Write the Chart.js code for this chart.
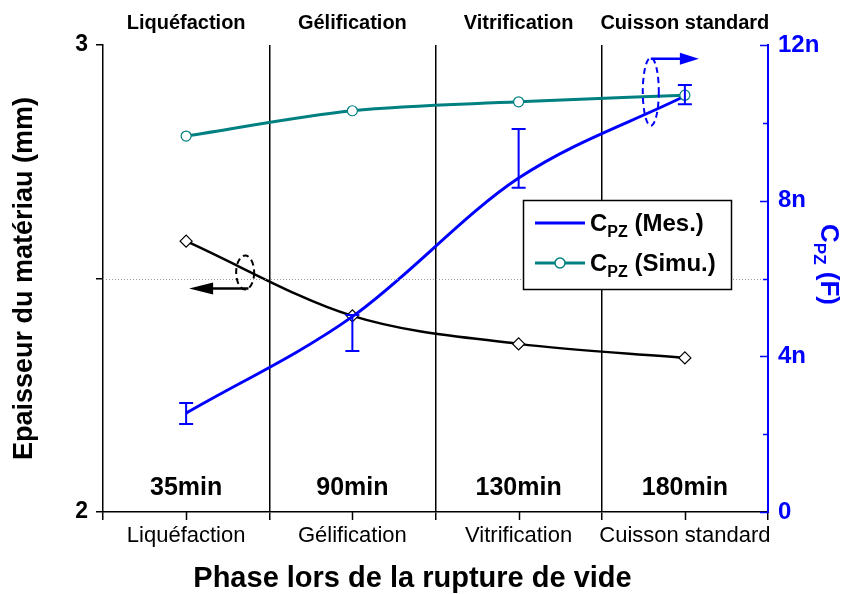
<!DOCTYPE html>
<html>
<head>
<meta charset="utf-8">
<script src="https://cdn.jsdelivr.net/npm/chart.js@4.4.0/dist/chart.umd.min.js"></script>
<style>
  html, body { margin: 0; padding: 0; background: #fff; }
  #wrap { width: 850px; height: 594px; }
</style>
</head>
<body>
<div id="wrap"><canvas id="chart" width="850" height="594"></canvas></div>
<script>
// phases de cuisson (axe X haut et bas)
const phases = ['Liquéfaction', 'Gélification', 'Vitrification', 'Cuisson standard'];
const durations = ['35min', '90min', '130min', '180min'];

// épaisseur du matériau (mm), axe gauche
const thickness = [2.58, 2.42, 2.36, 2.33];

// C_PZ mesurée (nF) + barres d'erreur, axe droit
const cpzMes = [2.54, 5.02, 8.58, 10.69];
const cpzMesLow = [2.26, 4.14, 8.33, 10.48];
const cpzMesHigh = [2.80, 5.06, 9.84, 10.97];

// C_PZ simulée (nF)
const cpzSimu = [9.66, 10.31, 10.54, 10.71];

const leftTicks = [2, 2.5, 3];
const rightTicks = [0, 2, 4, 6, 8, 10, 12];

const FONT = '"Liberation Sans", Arial, sans-serif';
const BLUE = '#0000ff';
const TEAL = '#008080';

// dessin des éléments que Chart.js ne fait pas tout seul
const extras = {
  id: 'extras',
  afterDatasetsDraw(chart) {
    const ctx = chart.ctx;
    const area = chart.chartArea;
    const xS = chart.scales.x;
    const yL = chart.scales.y;
    const yR = chart.scales.y2;
    ctx.save();

    // ligne pointillée à 2.5 mm
    ctx.strokeStyle = '#999';
    ctx.lineWidth = 1;
    ctx.setLineDash([1, 2]);
    const y25 = Math.round(yL.getPixelForValue(2.5)) + 0.5;
    ctx.beginPath();
    ctx.moveTo(area.left, y25);
    ctx.lineTo(area.right, y25);
    ctx.stroke();
    ctx.setLineDash([]);

    // barres d'erreur
    ctx.strokeStyle = BLUE;
    ctx.lineWidth = 2;
    cpzMes.forEach((v, i) => {
      const x = xS.getPixelForValue(i);
      const yt = yR.getPixelForValue(cpzMesHigh[i]);
      const yb = yR.getPixelForValue(cpzMesLow[i]);
      ctx.beginPath();
      ctx.moveTo(x, yt); ctx.lineTo(x, yb);
      ctx.moveTo(x - 7, yt); ctx.lineTo(x + 7, yt);
      ctx.moveTo(x - 7, yb); ctx.lineTo(x + 7, yb);
      ctx.stroke();
    });

    // durées en bas du graphe
    ctx.fillStyle = '#000';
    ctx.font = 'bold 25px ' + FONT;
    ctx.textAlign = 'center';
    ctx.textBaseline = 'middle';
    durations.forEach((d, i) => {
      ctx.fillText(d, xS.getPixelForValue(i), area.bottom - 24);
    });

    // titre de l'axe X
    ctx.font = 'bold 29px ' + FONT;
    ctx.fillText('Phase lors de la rupture de vide', (area.left + area.right) / 2 - 23, area.bottom + 67);

    // petites graduations au centre des catégories
    ctx.strokeStyle = '#000';
    ctx.lineWidth = 1.5;
    phases.forEach((p, i) => {
      const x = Math.round(xS.getPixelForValue(i)) + 0.5;
      ctx.beginPath();
      ctx.moveTo(x, area.bottom);
      ctx.lineTo(x, area.bottom + 8);
      ctx.stroke();
    });

    // graduations internes de l'axe droit
    ctx.strokeStyle = BLUE;
    ctx.lineWidth = 1.5;
    rightTicks.forEach(v => {
      const y = Math.round(yR.getPixelForValue(v)) + 0.5;
      const len = v % 4 === 0 ? 8 : 5;
      ctx.beginPath();
      ctx.moveTo(area.right, y);
      ctx.lineTo(area.right - len, y);
      ctx.stroke();
    });

    // annotations : ellipses + flèches
    const x0 = xS.getPixelForValue(0);
    const x3 = xS.getPixelForValue(3);
    const sp = xS.getPixelForValue(1) - x0;
    ctx.lineWidth = 2;

    ctx.strokeStyle = '#000';
    ctx.fillStyle = '#000';
    ctx.setLineDash([6, 4]);
    ctx.beginPath();
    ctx.ellipse(x0 + 0.355 * sp, yL.getPixelForValue(2.5) - 6, 9, 17, 0, 0, Math.PI * 2);
    ctx.stroke();
    ctx.setLineDash([]);
    const ya = yL.getPixelForValue(2.5) + 10;
    ctx.lineWidth = 2.5;
    ctx.beginPath();
    ctx.moveTo(x0 + 0.375 * sp, ya);
    ctx.lineTo(x0 + 24, ya);
    ctx.stroke();
    ctx.beginPath();
    ctx.moveTo(x0 + 3, ya);
    ctx.lineTo(x0 + 27, ya - 6);
    ctx.lineTo(x0 + 27, ya + 6);
    ctx.closePath();
    ctx.fill();

    ctx.strokeStyle = BLUE;
    ctx.fillStyle = BLUE;
    ctx.lineWidth = 2;
    ctx.setLineDash([6, 4]);
    const cyR = yR.getPixelForValue(10.8);
    ctx.beginPath();
    ctx.ellipse(x3 - 0.205 * sp, cyR, 8, 34, 0, 0, Math.PI * 2);
    ctx.stroke();
    ctx.setLineDash([]);
    const yb2 = cyR - 33;
    ctx.lineWidth = 2.5;
    ctx.beginPath();
    ctx.moveTo(x3 - 0.205 * sp, yb2);
    ctx.lineTo(x3 - 2, yb2);
    ctx.stroke();
    ctx.beginPath();
    ctx.moveTo(x3 + 14, yb2);
    ctx.lineTo(x3 - 5, yb2 - 6);
    ctx.lineTo(x3 - 5, yb2 + 6);
    ctx.closePath();
    ctx.fill();

    // légende
    const lx = area.left + 420, ly = area.top + 155;
    ctx.fillStyle = '#fff';
    ctx.fillRect(lx, ly, 208, 89);
    ctx.strokeStyle = '#000';
    ctx.lineWidth = 1.5;
    ctx.strokeRect(lx + 0.5, ly + 0.5, 208, 89);
    const rows = [
      { label: ' (Mes.)', color: BLUE, marker: false, y: ly + 23 },
      { label: ' (Simu.)', color: TEAL, marker: true, y: ly + 63 }
    ];
    rows.forEach(r => {
      ctx.strokeStyle = r.color;
      ctx.lineWidth = 3;
      ctx.beginPath();
      ctx.moveTo(lx + 12, r.y);
      ctx.lineTo(lx + 62, r.y);
      ctx.stroke();
      if (r.marker) {
        ctx.fillStyle = '#fff';
        ctx.lineWidth = 1.5;
        ctx.beginPath();
        ctx.arc(lx + 37, r.y, 5, 0, Math.PI * 2);
        ctx.fill();
        ctx.stroke();
      }
      drawCpz(ctx, lx + 67, r.y + 1, r.label, 24, 16, '#000');
    });

    // titre de l'axe droit
    ctx.save();
    ctx.translate(area.right + 60, (area.top + area.bottom) / 2 - 14);
    ctx.rotate(Math.PI / 2);
    const w = measureCpz(ctx, ' (F)', 26, 17);
    drawCpz(ctx, -w / 2, 0, ' (F)', 26, 17, BLUE);
    ctx.restore();

    ctx.restore();
  }
};

function measureCpz(ctx, rest, big, small) {
  ctx.font = 'bold ' + big + 'px ' + FONT;
  let w = ctx.measureText('C').width + ctx.measureText(rest).width;
  ctx.font = 'bold ' + small + 'px ' + FONT;
  w += ctx.measureText('PZ').width;
  return w;
}

function drawCpz(ctx, x, y, rest, big, small, color) {
  ctx.fillStyle = color;
  ctx.textAlign = 'left';
  ctx.textBaseline = 'middle';
  ctx.font = 'bold ' + big + 'px ' + FONT;
  ctx.fillText('C', x, y);
  x += ctx.measureText('C').width;
  ctx.font = 'bold ' + small + 'px ' + FONT;
  ctx.fillText('PZ', x, y + big * 0.35);
  x += ctx.measureText('PZ').width;
  ctx.font = 'bold ' + big + 'px ' + FONT;
  ctx.fillText(rest, x, y);
}

const config = {
  type: 'line',
  data: {
    labels: phases,
    datasets: [
      {
        label: 'Epaisseur',
        data: thickness,
        yAxisID: 'y',
        borderColor: '#000',
        borderWidth: 2.5,
        cubicInterpolationMode: 'monotone',
        pointStyle: 'rectRot',
        pointRadius: 6,
        pointBackgroundColor: '#fff',
        pointBorderColor: '#000',
        pointBorderWidth: 1.2,
        order: 3
      },
      {
        label: 'CPZ (Mes.)',
        data: cpzMes,
        yAxisID: 'y2',
        borderColor: BLUE,
        borderWidth: 3,
        cubicInterpolationMode: 'monotone',
        pointRadius: 0,
        order: 2
      },
      {
        label: 'CPZ (Simu.)',
        data: cpzSimu,
        yAxisID: 'y2',
        borderColor: TEAL,
        borderWidth: 3,
        cubicInterpolationMode: 'monotone',
        pointStyle: 'circle',
        pointRadius: 5,
        pointBackgroundColor: '#fff',
        pointBorderColor: TEAL,
        pointBorderWidth: 1.2,
        order: 1
      }
    ]
  },
  options: {
    responsive: false,
    animation: false,
    layout: { padding: 0 },
    plugins: {
      legend: { display: false },
      tooltip: { enabled: false }
    },
    scales: {
      x: {
        type: 'category',
        position: 'bottom',
        offset: true,
        afterFit: s => { s.height = 82; },
        grid: {
          offset: true,
          color: c => (c.index === 0 || c.index === phases.length) ? 'rgba(0,0,0,0)' : '#000',
          tickColor: '#000',
          lineWidth: 1.5,
          tickLength: 8
        },
        border: { color: '#000', width: 1.5 },
        ticks: {
          color: '#000',
          font: { family: FONT, size: 22 },
          padding: 3,
          maxRotation: 0,
          autoSkip: false
        }
      },
      x2: {
        type: 'category',
        position: 'top',
        labels: phases,
        offset: true,
        afterFit: s => { s.height = 45; },
        grid: { display: false, drawTicks: false },
        border: { display: false },
        ticks: {
          color: '#000',
          font: { family: FONT, size: 20, weight: 'bold' },
          padding: 10,
          maxRotation: 0,
          autoSkip: false
        }
      },
      y: {
        position: 'left',
        min: 2,
        max: 3,
        afterFit: s => { s.width = 103; },
        afterBuildTicks: s => { s.ticks = leftTicks.map(v => ({ value: v })); },
        grid: { drawOnChartArea: false, tickColor: '#000', tickLength: 7, lineWidth: 1.5 },
        border: { color: '#000', width: 1.5 },
        ticks: {
          color: '#000',
          font: { family: FONT, size: 23, weight: 'bold' },
          padding: 8,
          callback: v => (v === 2 || v === 3) ? String(v) : ''
        }
      },
      y2: {
        position: 'right',
        min: 0,
        max: 12,
        afterFit: s => { s.width = 82; },
        afterBuildTicks: s => { s.ticks = rightTicks.map(v => ({ value: v })); },
        grid: { drawOnChartArea: false, drawTicks: false },
        border: { color: BLUE, width: 2 },
        ticks: {
          color: BLUE,
          font: { family: FONT, size: 24, weight: 'bold' },
          padding: 10,
          callback: v => v % 4 === 0 ? (v === 0 ? '0' : v + 'n') : ''
        }
      }
    }
  },
  plugins: [extras]
};

// titre de l'axe gauche via Chart.js
config.options.scales.y.title = {
  display: true,
  text: 'Epaisseur du matériau (mm)',
  color: '#000',
  font: { family: FONT, size: 27, weight: 'bold' },
  padding: { top: 8, bottom: 0 }
};

new Chart(document.getElementById('chart').getContext('2d'), config);
</script>
</body>
</html>
